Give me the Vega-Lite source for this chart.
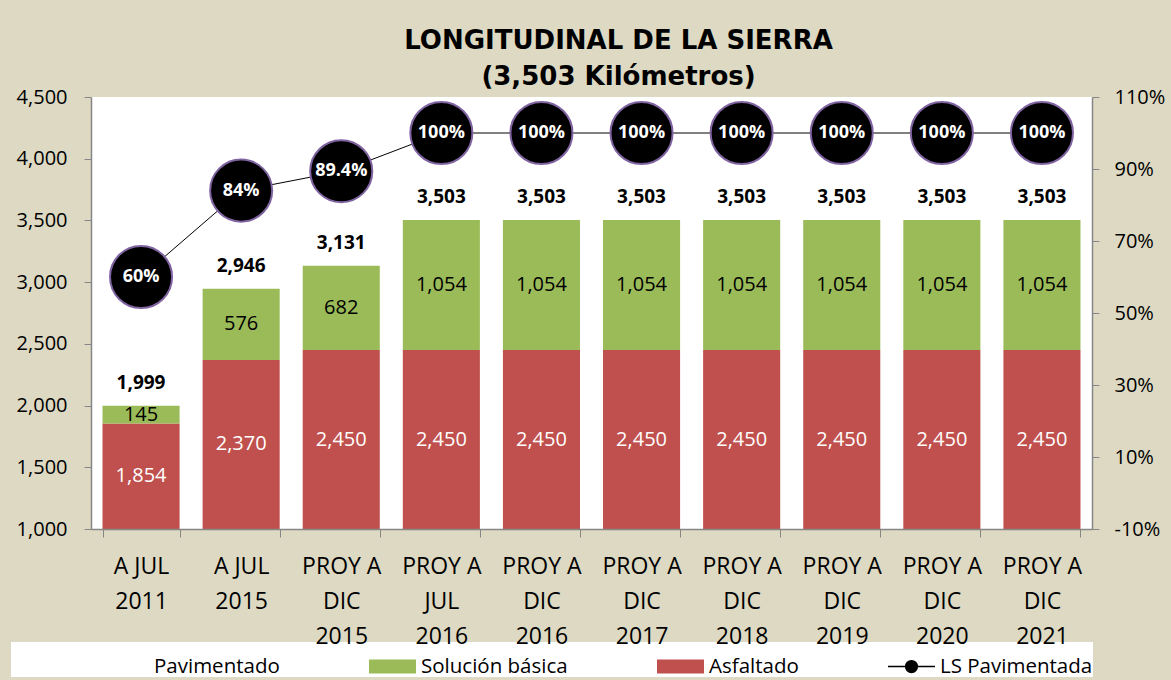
{
  "$schema": "https://vega.github.io/schema/vega-lite/v6.json",
  "width": 1001,
  "height": 432,
  "autosize": {"type": "none"},
  "padding": {"left": 91, "top": 97, "right": 79, "bottom": 151},
  "background": "#DDD9C3",
  "view": {"fill": "white", "stroke": null},
  "title": {
    "text": ["LONGITUDINAL DE LA SIERRA", "(3,503 Kilómetros)"],
    "font": "DejaVu Sans",
    "fontWeight": "bold",
    "fontSize": 26,
    "lineHeight": 36,
    "anchor": "middle",
    "dx": 27,
    "offset": -3,
    "color": "black"
  },
  "data": {
    "values": [
      {"cat": "A JUL|2011", "asfaltado": 1854, "solucion": 145, "total": 1999, "pct": 0.6},
      {"cat": "A JUL|2015", "asfaltado": 2370, "solucion": 576, "total": 2946, "pct": 0.84},
      {"cat": "PROY A|DIC|2015", "asfaltado": 2450, "solucion": 682, "total": 3131, "pct": 0.894},
      {"cat": "PROY A|JUL|2016", "asfaltado": 2450, "solucion": 1054, "total": 3503, "pct": 1.0},
      {"cat": "PROY A|DIC|2016", "asfaltado": 2450, "solucion": 1054, "total": 3503, "pct": 1.0},
      {"cat": "PROY A|DIC|2017", "asfaltado": 2450, "solucion": 1054, "total": 3503, "pct": 1.0},
      {"cat": "PROY A|DIC|2018", "asfaltado": 2450, "solucion": 1054, "total": 3503, "pct": 1.0},
      {"cat": "PROY A|DIC|2019", "asfaltado": 2450, "solucion": 1054, "total": 3503, "pct": 1.0},
      {"cat": "PROY A|DIC|2020", "asfaltado": 2450, "solucion": 1054, "total": 3503, "pct": 1.0},
      {"cat": "PROY A|DIC|2021", "asfaltado": 2450, "solucion": 1054, "total": 3503, "pct": 1.0}
    ]
  },
  "encoding": {
    "x": {
      "field": "cat",
      "type": "nominal",
      "sort": null,
      "title": null,
      "scale": {"paddingInner": 0.23, "paddingOuter": 0.115},
      "axis": {
        "zindex": 2,
        "labelAngle": 0,
        "labelExpr": "split(datum.label, '|')",
        "labelFont": "Open Sans",
        "labelFontSize": 23,
        "labelLineHeight": 35,
        "labelColor": "black",
        "labelLimit": 300,
        "labelPadding": 18,
        "tickBand": "extent",
        "tickSize": 8,
        "tickColor": "#868686",
        "domainColor": "#868686",
        "domainWidth": 1.5
      }
    }
  },
  "layer": [
    {
      "layer": [
        {
          "transform": [{"fold": ["asfaltado", "solucion"], "as": ["serie", "km"]}],
          "mark": {"type": "bar", "clip": true},
          "encoding": {
            "y": {
              "field": "km",
              "type": "quantitative",
              "stack": "zero",
              "title": null,
              "scale": {"domain": [1000, 4500]},
              "axis": {
                "values": [1000, 1500, 2000, 2500, 3000, 3500, 4000, 4500],
                "labelExpr": "format(datum.value, ',')",
                "grid": false,
                "labelFont": "Open Sans",
                "labelFontSize": 20,
                "labelColor": "black",
                "tickSize": 7,
                "labelPadding": 17,
                "tickColor": "#868686",
                "domainColor": "#868686",
                "domainWidth": 1.5
              }
            },
            "color": {
              "field": "serie",
              "type": "nominal",
              "scale": {
                "domain": ["pav", "solucion", "asfaltado", "ls"],
                "range": ["transparent", "#9BBB59", "#C0504D", "black"]
              },
              "legend": {
                "orient": "none",
                "legendX": -80,
                "legendY": 545,
                "zindex": 1,
                "direction": "horizontal",
                "title": "0000000",
                "titleOrient": "left",
                "titleFont": "Open Sans",
                "titleFontWeight": "normal",
                "titleFontSize": 21,
                "titleColor": "transparent",
                "titlePadding": 5,
                "fillColor": "white",
                "padding": 0,
                "labelFont": "Open Sans",
                "labelFontSize": 20.5,
                "labelColor": "black",
                "labelOffset": 4,
                "columnPadding": 86,
                "symbolSize": 2209,
                "symbolType": "M-1,-0.3H1V0.3H-1Z",
                "symbolStrokeWidth": 0,
                "labelExpr": "datum.label === 'pav' ? 'Pavimentado' : datum.label === 'solucion' ? 'Solución básica' : datum.label === 'asfaltado' ? 'Asfaltado' : 'LS Pavimentada'",
                "encode": {
                  "symbols": {
                    "update": {
                      "shape": {"signal": "datum.value === 'ls' ? 'M-1,0H1M-0.25,0a0.25,0.25 0 1,0 0.5,0a0.25,0.25 0 1,0 -0.5,0Z' : 'M-1,-0.3H1V0.3H-1Z'"},
                      "stroke": {"signal": "datum.value === 'ls' ? 'black' : 'transparent'"},
                      "strokeWidth": {"value": 1.5}
                    }
                  }
                }
              }
            },
            "order": {"field": "serie", "sort": "ascending"}
          }
        },
        {
          "mark": {"type": "text", "dy": -23, "font": "Open Sans", "fontWeight": "bold", "fontSize": 19, "color": "black"},
          "encoding": {
            "y": {"field": "total", "type": "quantitative", "title": null, "scale": {"domain": [1000, 4500]}, "axis": null},
            "text": {"field": "total", "type": "quantitative", "format": ","}
          }
        },
        {
          "mark": {"type": "text", "font": "Open Sans", "fontSize": 20, "color": "white"},
          "encoding": {
            "y": {"field": "asfaltado", "type": "quantitative", "title": null, "scale": {"domain": [1000, 8000]}, "axis": null},
            "text": {"field": "asfaltado", "type": "quantitative", "format": ","}
          }
        },
        {
          "transform": [{"fold": ["asfaltado", "solucion"], "as": ["serie", "km"]}],
          "mark": {"type": "text", "font": "Open Sans", "fontSize": 20, "color": "black"},
          "encoding": {
            "y": {"field": "km", "type": "quantitative", "stack": "zero", "bandPosition": 0.5, "title": null, "scale": {"domain": [1000, 4500]}, "axis": null},
            "order": {"field": "serie", "sort": "ascending"},
            "opacity": {"condition": {"test": "datum.serie === 'asfaltado'", "value": 0}, "value": 1},
            "text": {"field": "km", "type": "quantitative", "format": ","}
          }
        }
      ],
      "resolve": {"scale": {"y": "independent"}}
    },
    {
      "layer": [
        {
          "mark": {"type": "line", "color": "black", "strokeWidth": 1},
          "encoding": {
            "y": {
              "field": "pct",
              "type": "quantitative",
              "title": null,
              "scale": {"domain": [-0.1, 1.1]},
              "axis": {
                "orient": "right",
                "values": [-0.1, 0.1, 0.3, 0.5, 0.7, 0.9, 1.1],
                "labelExpr": "replace(format(datum.value, '.0%'), '\u2212', '-')",
                "grid": false,
                "labelFont": "Open Sans",
                "labelFontSize": 20,
                "labelColor": "black",
                "tickSize": 7,
                "labelPadding": 15,
                "tickColor": "#868686",
                "domainColor": "#868686",
                "domainWidth": 1.5
              }
            }
          }
        },
        {
          "mark": {"type": "point", "shape": "circle", "filled": true, "fill": "black", "stroke": "#8064A2", "strokeWidth": 2, "size": 3850, "opacity": 1},
          "encoding": {
            "y": {"field": "pct", "type": "quantitative", "title": null, "scale": {"domain": [-0.1, 1.1]}}
          }
        },
        {
          "mark": {"type": "text", "font": "Open Sans", "fontWeight": "bold", "fontSize": 18, "color": "white"},
          "encoding": {
            "y": {"field": "pct", "type": "quantitative", "title": null, "scale": {"domain": [-0.1, 1.1]}},
            "text": {"field": "pct", "type": "quantitative", "format": ".1~%"}
          }
        }
      ]
    }
  ],
  "resolve": {"scale": {"y": "independent"}}
}
